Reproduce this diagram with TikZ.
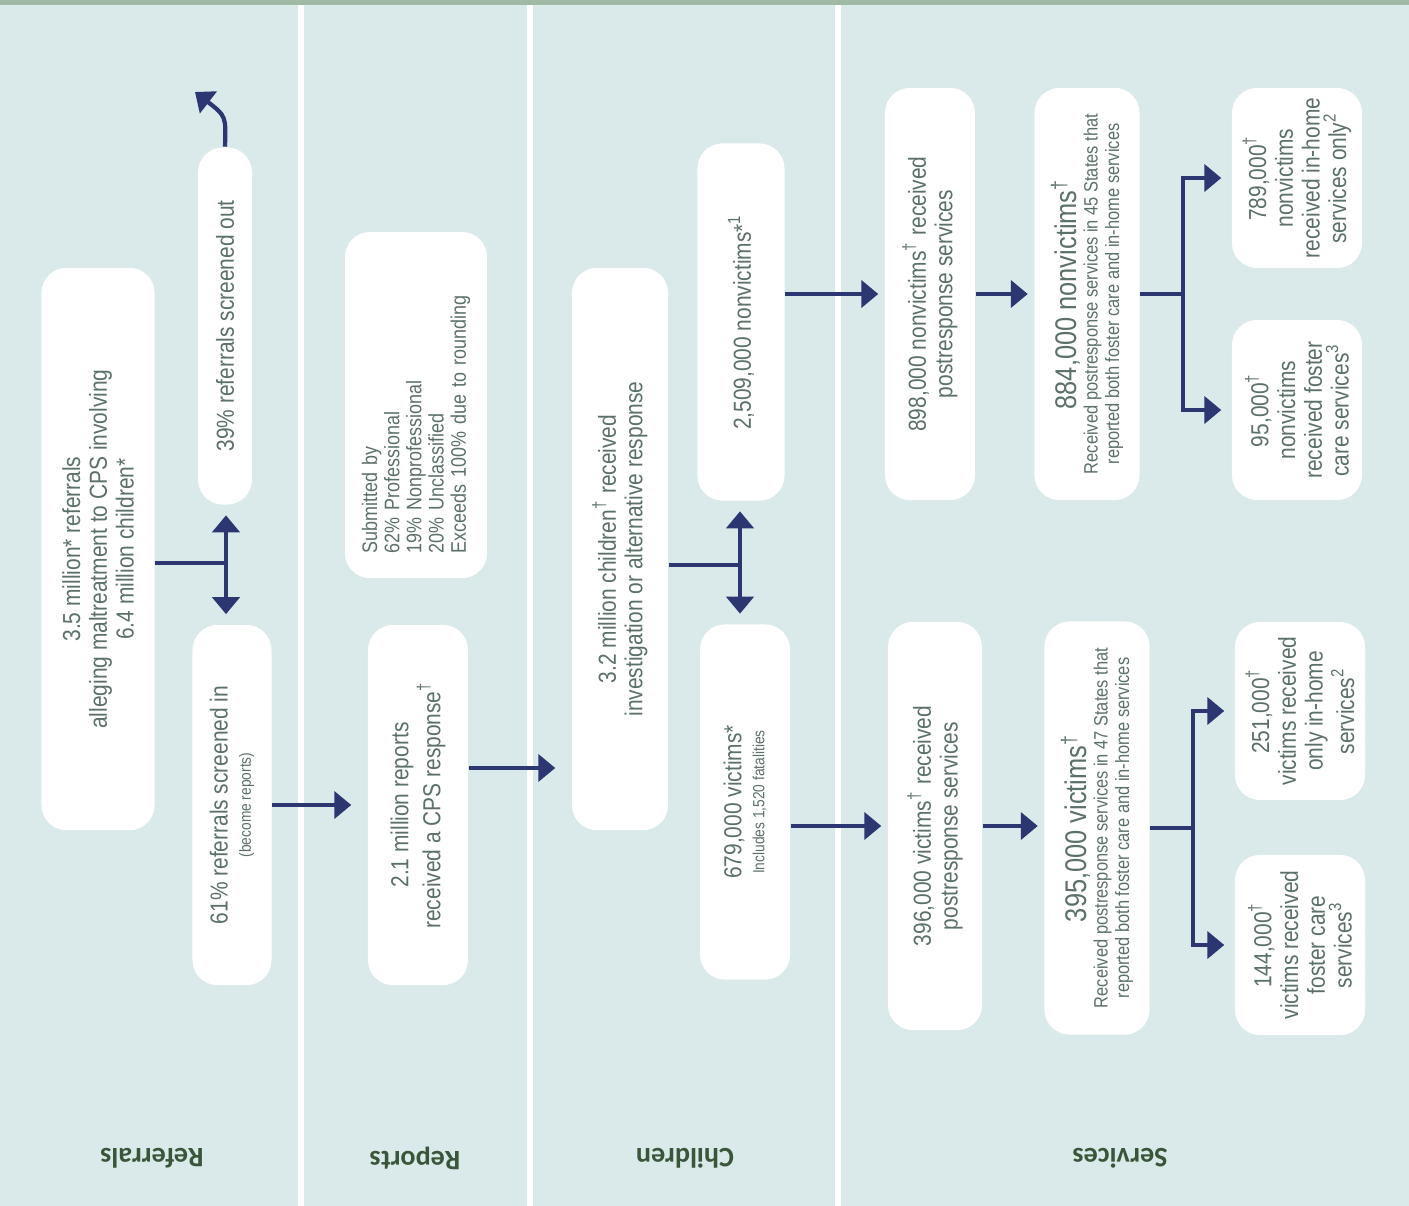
\documentclass[tikz,border=0pt]{standalone}
\usepackage{fontspec}
\usetikzlibrary{arrows.meta}
\newfontfamily\boxfont[FakeStretch=0.85]{Liberation Sans}
\newfontfamily\headfont{Carlito}
\definecolor{cpsbg}{RGB}{218,233,233}
\definecolor{cpsnavy}{RGB}{44,54,112}
\definecolor{cpstext}{RGB}{92,112,106}
\definecolor{cpshead}{RGB}{58,86,58}
\definecolor{cpstop}{RGB}{160,186,166}
\newcommand{\cpsmain}{\boxfont\fontsize{7}{7.6}\selectfont}
\newcommand{\cpssmall}{\boxfont\fontsize{5.5}{6.2}\selectfont}
\newcommand{\cpstiny}{\boxfont\fontsize{4.6}{5.4}\selectfont}
\newcommand{\cpssub}{\boxfont\fontsize{6}{6.3}\selectfont}
\newcommand{\cpsbig}{\boxfont\fontsize{8.5}{9.5}\selectfont}

\begin{document}
\begin{tikzpicture}[x=0.01cm,y=-0.01cm,
  box/.style 2 args={fill=white,rounded corners=0.25cm,rotate=90,align=center,inner sep=0pt,
    minimum width=#1,minimum height=#2,text=cpstext,font=\cpsmain},
  link/.style={draw=cpsnavy,line width=1.2pt},
  tip/.style={link,-{Triangle[length=0.17cm,width=0.27cm]},shorten >=0.1cm},
  dtip/.style={link,{Triangle[length=0.17cm,width=0.27cm]}-{Triangle[length=0.17cm,width=0.27cm]},
    shorten <=0.1cm,shorten >=0.1cm},
  colhead/.style={rotate=180,font=\headfont\bfseries\fontsize{8}{9}\selectfont,text=cpshead}]
  \useasboundingbox (0,0) rectangle (1409,1206);
  \fill[cpsbg] (0,0) rectangle (1409,1206);
  \fill[cpstop] (0,0) rectangle (1409,5);
  % column rules and headings
  \foreach \sx in {301,530,838}{%
    \draw[white,line width=0.06cm] (\sx,5) -- (\sx,1206);
  }
  \foreach \hx/\htext in {152/Referrals,415/Reports,685/Children,1120/Services}{%
    \node[colhead] (h\htext) at (\hx,1158) {\htext};
  }
  % referrals
  \node[box={5.62cm}{1.13cm}] (refall) at (98,549)
    {3.5 million* referrals\\alleging maltreatment to CPS involving\\6.4 million children*};
  \node[box={3.57cm}{0.54cm}] (scrout) at (225,326) {39\% referrals screened out};
  \node[box={3.6cm}{0.79cm}] (scrin) at (232,805)
    {61\% referrals screened in\\[-1pt]{\cpstiny (become reports)}};
  % reports
  \node[box={3.46cm}{1.42cm},align=left,text width=2.96cm,inner xsep=0.25cm,font=\cpssub] (submit) at (416,405)
    {Submitted by\\62\% Professional\\19\% Nonprofessional\\20\% Unclassified\\Exceeds 100\% due to rounding};
  \node[box={3.6cm}{1.0cm}] (reports) at (418,805)
    {2.1 million reports\\received a CPS response\textsuperscript{\dag}};
  % children
  \node[box={5.62cm}{0.96cm}] (children) at (620,549)
    {3.2 million children\textsuperscript{\dag} received\\investigation or alternative response};
  \node[box={3.57cm}{0.87cm}] (nonvic) at (741,322) {2,509,000 nonvictims*\textsuperscript{1}};
  \node[box={3.55cm}{0.9cm}] (vic) at (745,802)
    {679,000 victims*\\[-1pt]{\cpstiny Includes 1,520 fatalities}};
  % services
  \node[box={4.12cm}{0.9cm}] (nvpost) at (930,294)
    {898,000 nonvictims\textsuperscript{\dag} received\\postresponse services};
  \node[box={4.12cm}{1.05cm}] (nvstate) at (1087,294)
    {{\cpsbig 884,000 nonvictims\textsuperscript{\dag}}\\[-1.5pt]{\cpssmall Received postresponse services in 45 States that}\\[-1.5pt]{\cpssmall reported both foster care and in-home services}};
  \node[box={1.8cm}{1.3cm}] (nvhome) at (1297,178)
    {789,000\textsuperscript{\dag}\\nonvictims\\received in-home\\services only\textsuperscript{2}};
  \node[box={1.8cm}{1.3cm}] (nvfoster) at (1297,410)
    {95,000\textsuperscript{\dag}\\nonvictims\\received foster\\care services\textsuperscript{3}};
  \node[box={4.08cm}{0.94cm}] (vpost) at (935,826)
    {396,000 victims\textsuperscript{\dag} received\\postresponse services};
  \node[box={4.13cm}{1.05cm}] (vstate) at (1097,828)
    {{\cpsbig 395,000 victims\textsuperscript{\dag}}\\[-1.5pt]{\cpssmall Received postresponse services in 47 States that}\\[-1.5pt]{\cpssmall reported both foster care and in-home services}};
  \node[box={1.78cm}{1.3cm}] (vhome) at (1300,711)
    {251,000\textsuperscript{\dag}\\victims received\\only in-home\\services\textsuperscript{2}};
  \node[box={1.8cm}{1.3cm}] (vfoster) at (1300,945)
    {144,000\textsuperscript{\dag}\\victims received\\foster care\\services\textsuperscript{3}};
  % connectors
  \coordinate (rj) at (226,563);
  \draw[link] (rj -| refall.south) -- (rj);
  \draw[dtip] (rj |- scrout.west) -- (rj |- scrin.east);
  \coordinate (outtip) at (195,92);
  \draw[link,-{Triangle[length=0.17cm,width=0.27cm]}] (scrout.east) .. controls (226,116) .. (outtip);
  \draw[tip,shorten >=0.16cm] (scrin.south) -- (scrin.south -| reports.north);
  \coordinate (repout) at ([yshift=0.37cm]reports.south);
  \draw[tip,shorten >=0.16cm] (repout) -- (repout -| children.north);
  \coordinate (cj) at (740,565);
  \draw[link] (cj -| children.south) -- (cj);
  \draw[dtip] (cj |- nonvic.west) -- (cj |- vic.east);
  \draw[tip,shorten >=0.06cm] (nonvic.south |- nvpost.north) -- (nvpost.north);
  \draw[tip,shorten >=0.06cm] (vic.south |- vpost.north) -- (vpost.north);
  \draw[tip,shorten >=0.06cm] (nvpost.south) -- (nvstate.north);
  \draw[tip,shorten >=0.06cm] (vpost.south) -- (vpost.south -| vstate.north);
  \coordinate (nj) at (1183,294);
  \draw[link] (nvstate.south) -- (nj);
  \draw[tip] (nj) |- (nvhome.north);
  \draw[tip] (nj) |- (nvfoster.north);
  \coordinate (vj) at (1193,828);
  \draw[link] (vstate.south) -- (vj);
  \draw[tip] (vj) |- (vhome.north);
  \draw[tip] (vj) |- (vfoster.north);
\end{tikzpicture}
\end{document}
